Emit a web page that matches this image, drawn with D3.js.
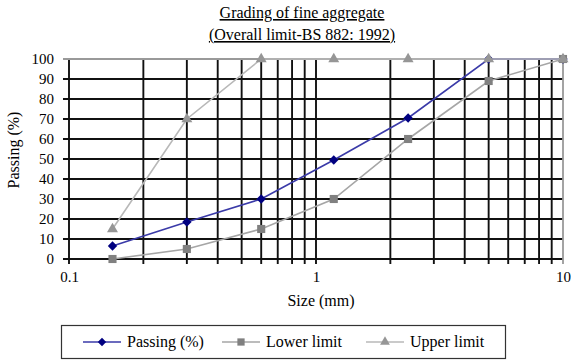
<!DOCTYPE html>
<html>
<head>
<meta charset="utf-8">
<script src="https://cdn.jsdelivr.net/npm/d3@7"></script>
<style>
  html, body { margin: 0; padding: 0; background: #fff; }
  svg { display: block; }
</style>
</head>
<body>
<svg id="chart" width="571" height="360"></svg>
<script>
// Sieve sizes (mm) and percentage passing
const sizes = [0.15, 0.3, 0.6, 1.18, 2.36, 5, 10];
const passing = [6.5, 18.5, 30, 49.5, 70.5, 100, 100];
const lowerLimit = [0, 5, 15, 30, 60, 89, 100];
const upperLimit = [15, 70, 100, 100, 100, 100, 100];
const yTicks = [0, 10, 20, 30, 40, 50, 60, 70, 80, 90, 100];
const xTickLabels = [0.1, 1, 10];

const FONT = "'Liberation Serif', 'Times New Roman', serif";
const svg = d3.select("#chart").attr("font-family", FONT);
const plotLeft = 69, plotRight = 563, plotTop = 59, plotBottom = 259;

const x = d3.scaleLog().domain([0.1, 10]).range([plotLeft, plotRight]);
const y = d3.scaleLinear().domain([0, 100]).range([plotBottom, plotTop]);

// Title (two underlined lines)
const title = svg.append("g").attr("font-size", 16).attr("fill", "#000")
  .attr("text-anchor", "middle").attr("text-decoration", "underline");
title.append("text").attr("x", 302).attr("y", 18).text("Grading of fine aggregate");
title.append("text").attr("x", 302).attr("y", 40).text("(Overall limit-BS 882: 1992)");

// Log grid: every 1..9 multiple of each decade
const vLines = [];
[0.1, 1].forEach(d => { for (let k = 1; k <= 9; k++) vLines.push(d * k); });

const grid = svg.append("g");
grid.selectAll("line.v").data(vLines).join("line")
  .attr("x1", d => x(d)).attr("x2", d => x(d))
  .attr("y1", plotTop).attr("y2", plotBottom + 5)
  .attr("stroke", "#111").attr("stroke-width", 1.9);
grid.selectAll("line.h").data(yTicks.filter(v => v < 100)).join("line")
  .attr("x1", plotLeft - 6).attr("x2", plotRight)
  .attr("y1", d => y(d)).attr("y2", d => y(d))
  .attr("stroke", "#111").attr("stroke-width", 1.9);
// Top and right border in grey
svg.append("line").attr("x1", plotLeft - 6).attr("x2", plotRight).attr("y1", y(100)).attr("y2", y(100))
  .attr("stroke", "#999").attr("stroke-width", 1.8);
svg.append("line").attr("x1", x(10)).attr("x2", x(10)).attr("y1", plotTop).attr("y2", plotBottom + 5)
  .attr("stroke", "#999").attr("stroke-width", 1.8);

// Y axis labels
const yAxis = svg.append("g").attr("transform", `translate(${plotLeft},0)`)
  .call(d3.axisLeft(y).tickValues(yTicks).tickSize(0).tickPadding(15));
yAxis.attr("font-family", FONT).attr("font-size", 15);
yAxis.select(".domain").remove();
yAxis.selectAll("text").attr("fill", "#000");

// X axis labels
const xAxis = svg.append("g").attr("transform", `translate(0,${plotBottom})`)
  .call(d3.axisBottom(x).tickValues(xTickLabels).tickFormat(d3.format("")).tickSize(0).tickPadding(12));
xAxis.attr("font-family", FONT).attr("font-size", 15);
xAxis.select(".domain").remove();
xAxis.selectAll("text").attr("fill", "#000");

// Axis titles
svg.append("text").attr("x", 321).attr("y", 306).attr("text-anchor", "middle")
  .attr("font-size", 16).text("Size (mm)");
svg.append("text").attr("transform", "translate(19,150) rotate(-90)")
  .attr("text-anchor", "middle").attr("font-size", 16).text("Passing (%)");

// Series
const series = [
  { name: "Passing (%)", values: passing, line: "#3a3aa8", marker: "#000080", shape: d3.symbolDiamond2, size: 56 },
  { name: "Lower limit", values: lowerLimit, line: "#a6a6a6", marker: "#808080", shape: d3.symbolSquare, size: 66 },
  { name: "Upper limit", values: upperLimit, line: "#b8b8b8", marker: "#969696", shape: d3.symbolTriangle, size: 52 }
];

const lineGen = d3.line().x(d => x(d[0])).y(d => y(d[1]));

series.forEach(s => {
  const pts = sizes.map((v, i) => [v, s.values[i]]);
  const g = svg.append("g");
  g.append("path").datum(pts).attr("d", lineGen)
    .attr("fill", "none").attr("stroke", s.line).attr("stroke-width", 1.6);
  g.selectAll("path.m").data(pts).join("path")
    .attr("transform", d => `translate(${x(d[0])},${y(d[1])})`)
    .attr("d", d3.symbol().type(s.shape).size(s.size))
    .attr("fill", s.marker);
});

// Legend
const legend = svg.append("g");
legend.append("rect").attr("x", 61.5).attr("y", 325.5).attr("width", 444).attr("height", 33)
  .attr("fill", "#fff").attr("stroke", "#333").attr("stroke-width", 1.2);
const legendX = [83, 222, 366];
series.forEach((s, i) => {
  const lx = legendX[i], ly = 342;
  legend.append("line").attr("x1", lx).attr("x2", lx + 38).attr("y1", ly).attr("y2", ly)
    .attr("stroke", s.line).attr("stroke-width", 1.6);
  legend.append("path").attr("transform", `translate(${lx + 19},${ly})`)
    .attr("d", d3.symbol().type(s.shape).size(s.size * 0.8)).attr("fill", s.marker);
  legend.append("text").attr("x", lx + 44).attr("y", ly + 5).attr("font-size", 16).text(s.name);
});
</script>
</body>
</html>
